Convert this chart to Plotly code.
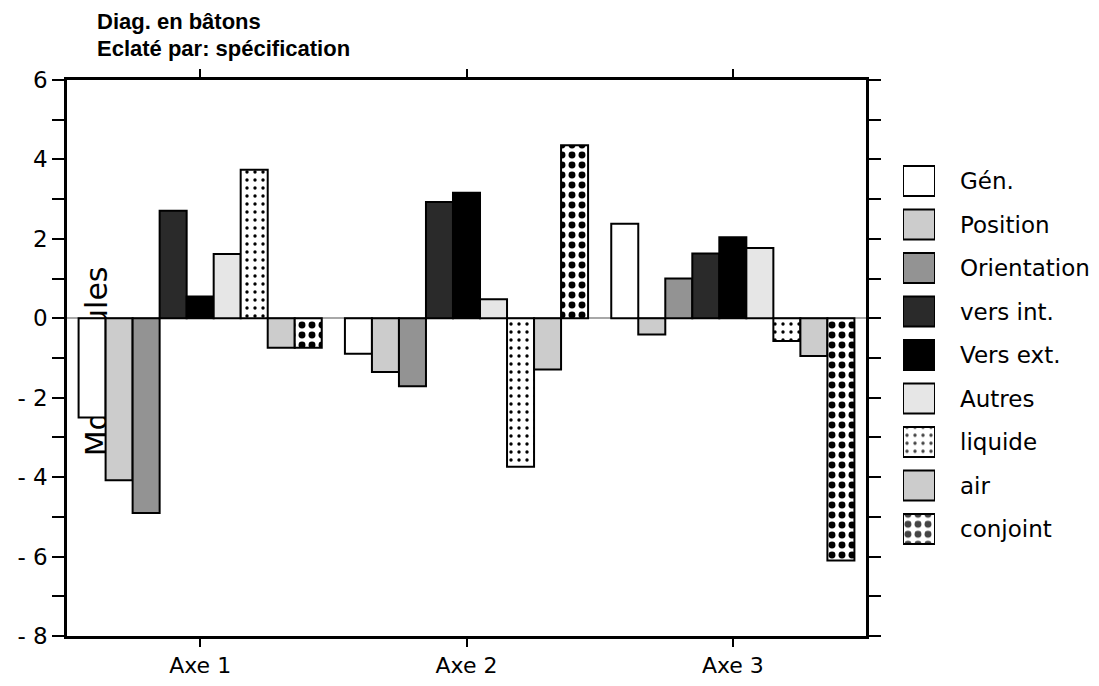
import plotly.graph_objects as go

# ---------------- data ----------------
cats = ["Axe 1", "Axe 2", "Axe 3"]
names = ["Gén.", "Position", "Orientation", "vers int.", "Vers ext.",
         "Autres", "liquide", "air", "conjoint"]
gen = [-2.50, -0.89, 2.38]
position = [-4.08, -1.35, -0.41]
orientation = [-4.90, -1.71, 1.00]
vers_int = [2.71, 2.93, 1.63]
vers_ext = [0.55, 3.16, 2.04]
autres = [1.62, 0.48, 1.77]
liquide = [3.74, -3.74, -0.57]
air = [-0.74, -1.29, -0.95]
conjoint = [-0.74, 4.36, -6.10]
series = [gen, position, orientation, vers_int, vers_ext, autres, liquide, air, conjoint]

ytick_vals = [6, 4, 2, 0, -2, -4, -6, -8]
ytick_text = ["6", "4", "2", "0", "- 2", "- 4", "- 6", "- 8"]
ylabel = "Moy. cellules"
title_lines = ["Diag. en bâtons", "Eclaté par: spécification"]

# ---------------- styles ----------------
fills = ["#ffffff", "#cccccc", "#939393", "#2a2a2a", "#000000",
         "#e6e6e6", "#ffffff", "#cccccc", "#ffffff"]
pshape = ["", "", "", "", "", "", ".", "", "."]
psize = [8, 8, 8, 8, 8, 8, 8, 8, 10]
psolid = [0.3, 0.3, 0.3, 0.3, 0.3, 0.3, 0.14, 0.3, 0.38]

W, H = 1099, 686
L, R, T, B = 67, 866, 80, 636
FONT = "DejaVu Sans"

fig = go.Figure()

for nm, vals, fc, ps, sz, so in zip(names, series, fills, pshape, psize, psolid):
    fig.add_trace(go.Bar(
        x=cats, y=vals, name=nm, showlegend=False,
        marker=dict(color=fc, line=dict(color="black", width=2),
                    pattern=dict(shape=ps, fgcolor="black", bgcolor=fc,
                                 fgopacity=1, size=sz, solidity=so)),
        xaxis="x", yaxis="y"))

# dummy trace so that the label axis exists
fig.add_trace(go.Scatter(x=[cats[0]], y=[None], xaxis="x", yaxis="y2",
                         showlegend=False, hoverinfo="skip"))

# custom legend drawn as bars on a small subplot
rows = list(range(len(names)))
fig.add_trace(go.Bar(
    x=[1] * len(names), y=rows, orientation="h", width=0.69,
    marker=dict(color=fills, line=dict(color="black", width=2),
                pattern=dict(shape=pshape, fgcolor="black", bgcolor=fills,
                             fgopacity=1, size=psize, solidity=psolid)),
    xaxis="x3", yaxis="y3", showlegend=False, hoverinfo="skip",
    cliponaxis=False))

row0, rowstep = 181, 43.5
ytop = row0 - rowstep / 2
ybot = row0 + rowstep * (len(names) - 0.5)

axis_common = dict(showline=True, linecolor="black", linewidth=2.5,
                   mirror="allticks", ticks="outside", tickcolor="black",
                   tickwidth=2, showgrid=False)

fig.update_layout(
    width=W, height=H,
    margin=dict(l=0, r=0, t=0, b=0, autoexpand=False),
    paper_bgcolor="white", plot_bgcolor="white",
    barmode="group", bargap=0.087, bargroupgap=0,
    font=dict(family=FONT, size=22, color="black"),
    xaxis=dict(domain=[L / W, R / W], anchor="y", ticklen=8,
               tickfont=dict(size=22), **axis_common),
    yaxis=dict(domain=[1 - B / H, 1 - T / H], anchor="x", range=[-8, 6],
               tickvals=ytick_vals, ticktext=ytick_text, ticklen=12,
               tickfont=dict(size=23),
               minor=dict(dtick=1, tick0=0, ticks="outside", ticklen=12,
                          tickwidth=2, tickcolor="black"),
               zeroline=True, zerolinecolor="#a8a8a8", zerolinewidth=2,
               **axis_common),
    yaxis2=dict(overlaying="y", anchor="free", position=113 / W, side="left",
                range=[-8, 6], tickvals=[-1.2], ticktext=[ylabel],
                tickangle=-90, ticks="", showline=False, showgrid=False,
                zeroline=False, layer="below traces",
                tickfont=dict(size=30, family=FONT)),
    xaxis3=dict(domain=[903 / W, 935 / W], anchor="y3", range=[0, 1],
                visible=False, fixedrange=True),
    yaxis3=dict(domain=[1 - ybot / H, 1 - ytop / H], anchor="x3",
                range=[len(names) - 0.5, -0.5], visible=False,
                fixedrange=True),
)

# title lines
for txt, yy in zip(title_lines, [21, 48]):
    fig.add_annotation(x=95 / W, xref="paper", y=1 - yy / H, yref="paper",
                       text=txt, showarrow=False, xanchor="left",
                       yanchor="middle",
                       font=dict(family="Liberation Sans", size=22,
                                 color="black", weight="bold"))

# legend labels
for i, nm in enumerate(names):
    fig.add_annotation(x=958 / W, xref="paper", y=i, yref="y3", text=nm,
                       showarrow=False, xanchor="left", yanchor="middle",
                       font=dict(family=FONT, size=23, color="black"))

fig.write_html(
    "out.html",
    config={"displayModeBar": False},
    post_script="document.body.style.margin='0';"
                "document.body.style.overflow='hidden';")
